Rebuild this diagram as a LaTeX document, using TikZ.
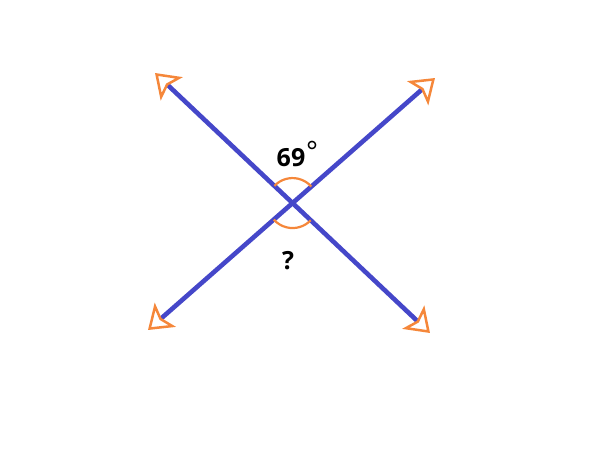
\documentclass[tikz,border=0pt]{standalone}
\usepackage{fontspec}
\setmainfont{Open Sans}
\usetikzlibrary{arrows.meta, positioning, calc}

\definecolor{rayblue}{HTML}{4547C9}
\definecolor{tiporange}{HTML}{F5873A}

\begin{document}
\begin{tikzpicture}[x=1pt, y=-1pt,
    tip/.tip={Stealth[open, color=tiporange, line width=2.5pt, length=23pt, width=32pt, inset=5pt]}]
    \tikzstyle{ray} = [draw=rayblue, line width=4.6pt, {tip}-{tip}]
    \tikzstyle{anglemark} = [draw=tiporange, line width=2.2pt]
    \tikzstyle{lbl} = [font=\fontsize{25}{25}\selectfont\bfseries, inner sep=0pt]

    \useasboundingbox (0,0) rectangle (600,450);

    % Define end points
    \coordinate (ul) at (155,73);
    \coordinate (lr) at (430,333);
    \coordinate (ll) at (148,330);
    \coordinate (ur) at (435,78);
    \coordinate (o) at (intersection of ul--lr and ll--ur);

    % Draw rays
    \draw[ray] (ul) -- (lr);
    \draw[ray] (ll) -- (ur);

    % Draw angle marks
    \draw[anglemark] (o) ++(-136.6:25) arc[start angle=-136.6, end angle=-41.3, radius=25];
    \draw[anglemark] (o) ++(43.4:25) arc[start angle=43.4, end angle=138.7, radius=25];

    % Labels
    \node[lbl] (given) at (291,158) {69};
    \node[font=\fontsize{28}{28}\selectfont, inner sep=0pt] (deg) at (312,151) {°};
    \node[lbl] (unknown) at (288,261) {?};
\end{tikzpicture}
\end{document}
